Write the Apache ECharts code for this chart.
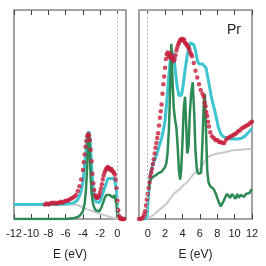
<!DOCTYPE html>
<html>
<head>
<meta charset="utf-8">
<script src="https://cdn.jsdelivr.net/npm/echarts@6/dist/echarts.min.js"></script>
<style>html,body{margin:0;padding:0;background:#fff}#c{width:266px;height:266px}</style>
</head>
<body>
<div id="c"></div>
<script>
// ---- tick labels ----
var leftTicks = [-12, -10, -8, -6, -4, -2, 0];
var rightTicks = [0, 2, 4, 6, 8, 10, 12];
var panelLabel = 'Pr';
var axisName = 'E (eV)';

// ---- left panel (occupied states) [E, intensity] ----
var leftRed = [[-8.4,15],[-8.2,16],[-8.0,15],[-7.8,16],[-7.6,17],[-7.4,16],[-7.2,17],[-7.0,16],[-6.8,17],[-6.6,18],[-6.4,17],[-6.2,18],[-6.0,19],[-5.8,19],[-5.6,20],[-5.4,21],[-5.2,22],[-5.0,23],[-4.8,25],[-4.6,29],[-4.4,34],[-4.2,41],[-4.0,51],[-3.9,59],[-3.8,67],[-3.7,75],[-3.6,81],[-3.5,86],[-3.4,88],[-3.3,87],[-3.2,82],[-3.1,72],[-3.0,60],[-2.9,47],[-2.8,37],[-2.7,30],[-2.6,25],[-2.5,23],[-2.4,22],[-2.3,22],[-2.2,23],[-2.1,25],[-2.0,28],[-1.9,32],[-1.8,36],[-1.7,41],[-1.6,45],[-1.5,48],[-1.4,50],[-1.3,52],[-1.2,53],[-1.1,54],[-1.0,53],[-0.9,52],[-0.8,51],[-0.7,52],[-0.6,50],[-0.5,49],[-0.4,48],[-0.3,46],[-0.2,41],[-0.1,32],[0.0,19],[0.1,9],[0.2,3],[0.3,1],[0.4,0],[0.5,0],[0.6,0],[0.7,0],[0.8,0]];
var leftCyan = [[-12,15],[-7,15],[-6,15.5],[-5.5,16],[-5,17],[-4.6,20],[-4.3,26],[-4.0,38],[-3.8,55],[-3.6,75],[-3.45,88],[-3.3,91],[-3.15,80],[-3.0,55],[-2.85,35],[-2.7,24],[-2.5,18],[-2.3,16],[-2.1,17],[-1.9,21],[-1.6,29],[-1.3,37],[-1.1,42],[-0.9,44],[-0.7,42],[-0.5,41],[-0.35,42],[-0.2,40],[-0.1,30],[0.0,12],[0.1,2],[0.2,0],[1.0,0]];
var leftGreen = [[-12,0],[-6,0],[-5.5,0.5],[-5,1],[-4.6,2],[-4.3,4],[-4.0,8],[-3.8,16],[-3.65,30],[-3.5,55],[-3.4,80],[-3.3,88],[-3.2,70],[-3.1,42],[-3.0,27],[-2.85,17],[-2.7,12],[-2.5,9],[-2.3,7],[-2.1,8],[-1.9,11],[-1.7,16],[-1.5,21],[-1.3,25],[-1.1,26],[-0.9,25],[-0.7,23],[-0.5,22],[-0.35,25],[-0.2,24],[-0.1,15],[0.0,2],[0.1,0],[1.0,0]];
var leftGray = [[-12,15],[-5,15],[-4.5,14],[-4,12],[-3.5,10],[-3,8.5],[-2.5,7],[-2,5.5],[-1.5,4],[-1,2.5],[-0.5,1.2],[0,0.3],[0.5,0],[1,0]];

// ---- right panel (unoccupied states) [E, intensity] ----
var rightRed = [[-1.0,0],[-0.8,0],[-0.6,1],[-0.5,2],[-0.4,5],[-0.3,8],[-0.2,14],[-0.1,20],[0.0,26],[0.1,32],[0.2,38],[0.3,44],[0.4,48],[0.5,52],[0.6,57],[0.7,62],[0.8,68],[0.9,74],[1.0,79],[1.1,84],[1.2,89],[1.3,97],[1.4,105],[1.5,112],[1.6,119],[1.7,130],[1.8,140],[1.9,148],[2.0,157],[2.1,166],[2.2,171],[2.3,173],[2.4,170],[2.5,168],[2.6,172],[2.7,169],[2.8,166],[2.9,168],[3.0,164],[3.1,166],[3.2,170],[3.3,175],[3.4,178],[3.5,181],[3.6,183],[3.7,185],[3.8,186],[3.9,187],[4.0,187],[4.1,185],[4.2,186],[4.3,183],[4.4,182],[4.5,181],[4.6,179],[4.7,178],[4.8,176],[4.9,173],[5.0,171],[5.1,169],[5.3,162],[5.5,154],[5.7,147],[5.9,140],[6.1,134],[6.3,130],[6.45,127],[6.55,121],[6.65,117],[6.75,111],[6.85,107],[6.95,101],[7.05,96],[7.2,90],[7.4,86],[7.6,84],[7.8,82],[8.0,82],[8.2,80],[8.4,80],[8.6,79],[8.8,79],[9.0,82],[9.2,84],[9.4,85],[9.6,86],[9.8,87],[10.0,88],[10.2,89],[10.4,91],[10.6,92],[10.8,94],[11.0,95],[11.2,96],[11.4,97],[11.6,98],[11.8,100],[12.0,101]];
var rightCyan = [[-1.0,0],[-0.15,0],[-0.05,5],[0.0,12],[0.1,25],[0.2,35],[0.3,44],[0.4,51],[0.6,57],[0.8,61],[1.0,66],[1.2,72],[1.4,78],[1.6,84],[1.8,92],[2.0,102],[2.2,122],[2.4,145],[2.6,165],[2.8,174],[2.9,175],[3.0,170],[3.2,152],[3.4,137],[3.6,128],[3.75,126],[3.9,129],[4.1,140],[4.3,155],[4.5,167],[4.7,177],[4.9,183],[5.1,184],[5.3,181],[5.5,175],[5.7,165],[5.9,161],[6.1,160],[6.3,161],[6.5,161],[6.7,157],[6.9,148],[7.1,138],[7.3,128],[7.5,120],[7.7,113],[7.9,105],[8.1,96],[8.3,91],[8.5,87],[8.8,85],[9.2,84],[9.6,83],[10.0,83],[10.4,83],[10.8,84],[11.2,86],[11.5,89],[11.8,92],[12.0,94]];
var rightGreen = [[0.1,33],[0.3,40],[0.5,43],[0.7,44],[1.0,46],[1.3,48],[1.6,49],[1.8,50],[2.0,54],[2.15,58],[2.3,70],[2.45,95],[2.6,140],[2.72,182],[2.85,145],[3.0,115],[3.15,103],[3.3,95],[3.45,75],[3.6,50],[3.73,41],[3.85,50],[4.0,80],[4.15,115],[4.3,127],[4.42,100],[4.55,68],[4.7,75],[4.85,110],[5.0,130],[5.18,142],[5.35,110],[5.5,70],[5.65,52],[5.8,47],[6.0,46],[6.15,48],[6.3,80],[6.45,120],[6.57,130],[6.7,95],[6.85,50],[7.0,38],[7.2,34],[7.4,32],[7.6,31],[7.8,27],[8.0,22],[8.2,17],[8.4,13],[8.55,12],[8.7,18],[8.9,22],[9.1,26],[9.3,25],[9.5,22],[9.7,26],[9.9,25],[10.1,21],[10.3,26],[10.5,22],[10.7,25],[10.9,27],[11.1,23],[11.3,26],[11.5,28],[11.7,27],[11.9,30],[12.0,31]];
var rightGray = [[-1,0],[-0.35,0],[0,1],[0.25,2],[0.65,4],[1.0,7],[1.4,10],[1.8,13],[2.2,16],[2.5,20],[3.0,26],[3.4,29],[3.7,31],[4.1,35],[4.5,38],[4.8,41],[5.3,47],[5.7,50],[6.0,52],[6.2,54],[6.5,59],[6.8,63],[7.2,66],[7.6,67],[8.0,68],[8.7,69],[9.6,71],[10.6,72],[12,73]];

var COL = {cyan:'#3cc4cf', red:'#c61f3c', green:'#2d8a55', gray:'#c9c9c9', frame:'#858585', tick:'#444', text:'#222'};
var FONT = 'Liberation Sans';

function bottomAxis(grid, min, max, ticks) {
  return {
    type:'value', gridIndex:grid, position:'bottom', min:min, max:max,
    axisLine:{show:false}, splitLine:{show:false},
    axisTick:{show:true, inside:true, length:5, customValues:ticks, lineStyle:{color:COL.tick, width:1}},
    axisLabel:{show:true, customValues:ticks, margin:9, color:COL.text, fontSize:11, fontFamily:FONT},
    name:axisName, nameLocation:'middle', nameGap:30,
    nameTextStyle:{color:COL.text, fontSize:12, fontFamily:FONT}
  };
}
function topAxis(grid, min, max, ticks) {
  return {
    type:'value', gridIndex:grid, position:'top', min:min, max:max,
    axisLine:{show:false}, splitLine:{show:false},
    axisTick:{show:true, inside:true, length:5, customValues:ticks, lineStyle:{color:COL.tick, width:1}},
    axisLabel:{show:false}
  };
}
function line(data, xi, yi, color, width) {
  return {type:'line', xAxisIndex:xi, yAxisIndex:yi, data:data, showSymbol:false, symbol:'none',
    lineStyle:{color:color, width:width}, animation:false, z:2};
}
function dots(data, xi, yi) {
  return {type:'scatter', xAxisIndex:xi, yAxisIndex:yi, data:data, symbol:'circle', symbolSize:4.5,
    itemStyle:{color:COL.red}, animation:false, z:4};
}
var zeroLine = {silent:true, symbol:'none', label:{show:false}, animation:false,
  lineStyle:{type:[2,2], color:'#b5b5b5', width:1}, data:[{xAxis:0}]};

var chart = echarts.init(document.getElementById('c'), null, {renderer:'canvas'});
var sL = [line(leftGray,0,0,COL.gray,2), line(leftCyan,0,0,COL.cyan,3), line(leftGreen,0,0,COL.green,2.5), dots(leftRed,0,0)];
var sR = [line(rightGray,2,1,COL.gray,2), line(rightCyan,2,1,COL.cyan,3), line(rightGreen,2,1,COL.green,2.5), dots(rightRed,2,1)];
sL[0].markLine = zeroLine; sR[0].markLine = zeroLine;
chart.setOption({
  animation:false,
  grid:[
    {left:14, width:112, top:10, bottom:39, show:true, borderColor:COL.frame, borderWidth:1.5, backgroundColor:'transparent'},
    {left:139, width:113, top:10, bottom:39, show:true, borderColor:COL.frame, borderWidth:1.5, backgroundColor:'transparent'}
  ],
  xAxis:[bottomAxis(0,-12,1,leftTicks), topAxis(0,-12,1,leftTicks), bottomAxis(1,-1,12,rightTicks), topAxis(1,-1,12,rightTicks)],
  yAxis:[
    {type:'value', gridIndex:0, min:0, max:217, show:false},
    {type:'value', gridIndex:1, min:0, max:217, show:false}
  ],
  graphic:[{type:'text', left:227, top:23, style:{text:panelLabel, fill:COL.text, fontSize:14, fontFamily:FONT}}],
  series: sL.concat(sR)
});
</script>
</body>
</html>
